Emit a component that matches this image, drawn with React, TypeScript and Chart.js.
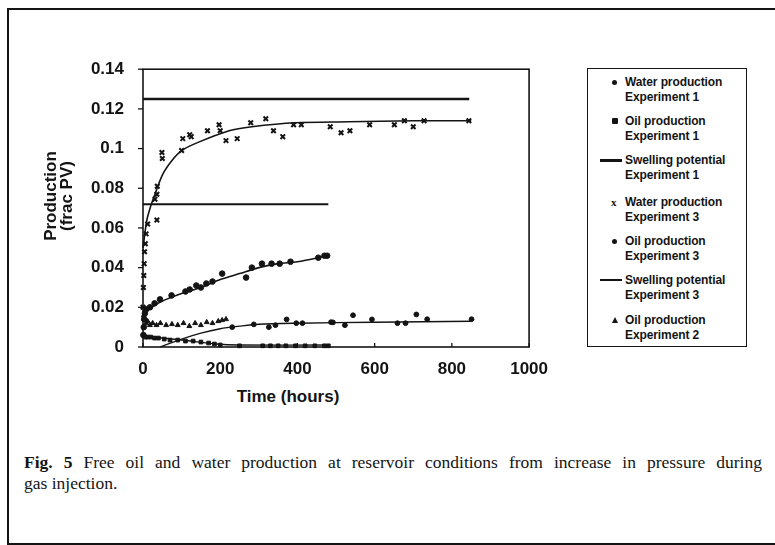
import React, { useEffect, useRef } from 'react';
import { Chart, registerables } from 'chart.js';
Chart.register(...registerables);

// ---- axes ----
const X_TICKS = [0, 200, 400, 600, 800, 1000];
const Y_TICKS = [0, 0.02, 0.04, 0.06, 0.08, 0.1, 0.12, 0.14];
const X_TITLE = 'Time (hours)';
const Y_TITLE_1 = 'Production';
const Y_TITLE_2 = '(frac PV)';

// ---- Water production, Experiment 1 ----
const WATER1_T = [231, 287, 326, 343, 372, 397, 413, 487, 492, 523, 544, 593, 659, 680, 708, 736, 851];
const WATER1_V = [0.010, 0.0114, 0.010, 0.011, 0.0139, 0.012, 0.012, 0.0125, 0.0124, 0.011, 0.016, 0.0139, 0.012, 0.012, 0.0164, 0.014, 0.014];
const WATER1_FIT_T = [45, 100, 150, 200, 250, 300, 400, 600, 851];
const WATER1_FIT_V = [0, 0.004, 0.007, 0.0092, 0.0105, 0.0115, 0.012, 0.0125, 0.013];

// ---- Oil production, Experiment 1 ----
const OIL1_T = [2, 6, 12, 20, 30, 40, 55, 70, 90, 110, 130, 150, 170, 185, 200, 250, 310, 330, 350, 370, 395, 420, 445, 470, 480];
const OIL1_V = [0.006, 0.005, 0.005, 0.005, 0.0045, 0.0045, 0.004, 0.0035, 0.0035, 0.003, 0.003, 0.0025, 0.002, 0.0015, 0.001, 0.0006, 0.0006, 0.0006, 0.0006, 0.0006, 0.0006, 0.0006, 0.0006, 0.0006, 0.0006];
const OIL1_FIT_T = [0, 100, 190, 250, 480];
const OIL1_FIT_V = [0.0055, 0.0035, 0.0015, 0.001, 0.001];

// ---- Swelling potential ----
const SWELL1_T = [0, 845];
const SWELL1_V = [0.125, 0.125];
const SWELL3_T = [0, 480];
const SWELL3_V = [0.072, 0.072];

// ---- Water production, Experiment 3 ----
const WATER3_T = [0, 1, 2, 3, 4, 6, 8, 12, 31, 36, 36, 37, 49, 50, 100, 103, 121, 125, 167, 197, 200, 215, 244, 279, 318, 338, 362, 390, 410, 485, 513, 536, 587, 651, 677, 700, 728, 844];
const WATER3_V = [0.02, 0.03, 0.036, 0.042, 0.048, 0.052, 0.057, 0.062, 0.0745, 0.064, 0.077, 0.081, 0.098, 0.095, 0.099, 0.105, 0.107, 0.106, 0.109, 0.112, 0.109, 0.104, 0.105, 0.113, 0.115, 0.109, 0.106, 0.112, 0.112, 0.111, 0.108, 0.109, 0.112, 0.112, 0.114, 0.111, 0.114, 0.114];
const WATER3_FIT_T = [0, 10, 20, 31, 51, 75, 100, 141, 223, 282, 395, 531, 700, 850];
const WATER3_FIT_V = [0.05, 0.064, 0.071, 0.077, 0.087, 0.094, 0.099, 0.103, 0.109, 0.111, 0.113, 0.1135, 0.114, 0.114];

// ---- Oil production, Experiment 3 ----
const OIL3_T = [1, 2, 3, 5, 8, 18, 30, 44, 74, 110, 121, 138, 150, 164, 180, 205, 267, 282, 308, 333, 354, 382, 454, 470, 477];
const OIL3_V = [0.006, 0.01, 0.014, 0.017, 0.019, 0.02, 0.022, 0.024, 0.026, 0.028, 0.029, 0.031, 0.03, 0.032, 0.033, 0.037, 0.035, 0.04, 0.042, 0.042, 0.042, 0.043, 0.045, 0.046, 0.046];
const OIL3_FIT_T = [10, 30, 60, 100, 150, 200, 250, 300, 350, 400, 477];
const OIL3_FIT_V = [0.018, 0.021, 0.024, 0.027, 0.03, 0.034, 0.037, 0.04, 0.042, 0.043, 0.046];

// ---- Oil production, Experiment 2 ----
const OIL2_T = [2, 5, 8, 12, 18, 25, 35, 45, 60, 75, 90, 105, 120, 135, 150, 165, 180, 195, 205, 215];
const OIL2_V = [0.016, 0.014, 0.012, 0.013, 0.011, 0.012, 0.011, 0.012, 0.011, 0.0115, 0.011, 0.012, 0.0105, 0.012, 0.011, 0.0125, 0.012, 0.013, 0.0135, 0.014];

// ---- legend ----
const LEGEND_LABELS = [
  ['Water production', 'Experiment 1'],
  ['Oil production', 'Experiment 1'],
  ['Swelling potential', 'Experiment 1'],
  ['Water production', 'Experiment 3'],
  ['Oil production', 'Experiment 3'],
  ['Swelling potential', 'Experiment 3'],
  ['Oil production', 'Experiment 2'],
];
const LEGEND_KINDS = ['dot', 'square', 'thickline', 'x', 'dot', 'line', 'tri'];

const CAPTION_BOLD = 'Fig. 5';
const CAPTION_LINE1 = ' Free oil and water production at reservoir conditions from increase in pressure during';
const CAPTION_LINE2 = 'gas injection.';

const INK = '#141414';
const pts = (t: number[], v: number[]) => t.map((x, i) => ({ x, y: v[i] }));

const framePlugin = {
  id: 'frame',
  afterDraw(chart: any) {
    const { ctx, chartArea, scales } = chart;
    const { left, right, top, bottom } = chartArea;
    ctx.save();
    ctx.strokeStyle = INK;
    ctx.lineWidth = 1.6;
    ctx.strokeRect(left, top, right - left, bottom - top);
    ctx.lineWidth = 1.3;
    Y_TICKS.forEach((v) => {
      const py = scales.y.getPixelForValue(v);
      ctx.beginPath(); ctx.moveTo(left - 5, py); ctx.lineTo(left, py); ctx.stroke();
    });
    X_TICKS.forEach((v) => {
      const px = scales.x.getPixelForValue(v);
      ctx.beginPath(); ctx.moveTo(px, bottom); ctx.lineTo(px, bottom - 4); ctx.stroke();
    });
    ctx.restore();
  },
};

function LegendMarker({ kind }: { kind: string }) {
  const base: React.CSSProperties = { position: 'absolute', background: INK };
  if (kind === 'dot') return <div style={{ ...base, left: 10, top: 5, width: 5, height: 5, borderRadius: 3 }} />;
  if (kind === 'square') return <div style={{ ...base, left: 10, top: 4, width: 6, height: 6, borderRadius: 1 }} />;
  if (kind === 'thickline') return <div style={{ ...base, left: -2, top: 6, width: 22, height: 3 }} />;
  if (kind === 'line') return <div style={{ ...base, left: -2, top: 6, width: 22, height: 1.5 }} />;
  if (kind === 'x') return <div style={{ position: 'absolute', left: 9, top: 1, fontSize: 11, fontWeight: 700, color: INK, lineHeight: '12px' }}>x</div>;
  return <div style={{ position: 'absolute', left: 10, top: 4, width: 0, height: 0, borderLeft: '3px solid transparent', borderRight: '3px solid transparent', borderBottom: `6px solid ${INK}` }} />;
}

export default function App() {
  const ref = useRef<HTMLCanvasElement | null>(null);

  useEffect(() => {
    if (!ref.current) return;
    const scatterDs = (data: any, style: string, radius: number, bw = 1) => ({
      type: 'scatter' as const,
      data,
      showLine: false,
      pointStyle: style,
      pointRadius: radius,
      pointBorderWidth: bw,
      pointBackgroundColor: INK,
      pointBorderColor: INK,
      clip: 8,
    });
    const lineDs = (data: any, width: number) => ({
      type: 'scatter' as const,
      data,
      showLine: true,
      pointRadius: 0,
      borderColor: INK,
      borderWidth: width,
      tension: 0.3,
      clip: 8,
    });
    const chart = new Chart(ref.current, {
      type: 'scatter',
      data: {
        datasets: [
          lineDs(pts(SWELL1_T, SWELL1_V), 2.4),
          lineDs(pts(SWELL3_T, SWELL3_V), 2),
          lineDs(pts(WATER3_FIT_T, WATER3_FIT_V), 1.6),
          lineDs(pts(OIL3_FIT_T, OIL3_FIT_V), 1.6),
          lineDs(pts(WATER1_FIT_T, WATER1_FIT_V), 1.4),
          lineDs(pts(OIL1_FIT_T, OIL1_FIT_V), 1.4),
          scatterDs(pts(WATER1_T, WATER1_V), 'circle', 2.4),
          scatterDs(pts(OIL1_T, OIL1_V), 'rect', 2.6),
          scatterDs(pts(WATER3_T, WATER3_V), 'crossRot', 3.2, 2),
          scatterDs(pts(OIL3_T, OIL3_V), 'circle', 2.8),
          scatterDs(pts(OIL2_T, OIL2_V), 'triangle', 2.8),
        ] as any,
      },
      options: {
        animation: false,
        responsive: false,
        maintainAspectRatio: false,
        layout: { padding: { top: 24, right: 27, left: 0, bottom: 0 } },
        plugins: { legend: { display: false }, tooltip: { enabled: false } },
        scales: {
          x: {
            type: 'linear',
            min: 0,
            max: 1000,
            afterBuildTicks: (s: any) => { s.ticks = X_TICKS.map((value) => ({ value })); },
            afterFit: (s: any) => { s.height = 33; },
            grid: { display: false, drawTicks: false },
            border: { display: false },
            ticks: {
              color: INK,
              padding: 12,
              maxRotation: 0,
              font: { family: 'Liberation Sans', size: 17, weight: 'bold' },
              callback: (v: any) => String(v),
            },
          },
          y: {
            type: 'linear',
            min: 0,
            max: 0.14,
            afterBuildTicks: (s: any) => { s.ticks = Y_TICKS.map((value) => ({ value })); },
            afterFit: (s: any) => { s.width = 143; },
            grid: { display: false, drawTicks: false },
            border: { display: false },
            ticks: {
              color: INK,
              padding: 19,
              font: { family: 'Liberation Sans', size: 17, weight: 'bold' },
              callback: (v: any) => String(Number(Number(v).toFixed(2))),
            },
          },
        },
      },
      plugins: [framePlugin],
    } as any);
    return () => chart.destroy();
  }, []);

  const legendTops = [75, 114, 153, 195, 234, 273, 313];

  return (
    <div style={{ position: 'fixed', left: 0, top: 0, width: 775, height: 545, background: '#fff', overflow: 'hidden' }}>
      <div style={{ position: 'absolute', left: 7, top: 8, width: 800, height: 533, borderLeft: `2px solid ${INK}`, borderTop: `2px solid ${INK}`, borderBottom: `2px solid ${INK}` }} />
      <canvas ref={ref} width={560} height={340} style={{ position: 'absolute', left: 0, top: 40, width: 560, height: 340 }} />
      <div style={{ position: 'absolute', left: 188, top: 387, width: 200, textAlign: 'center', font: 'bold 17px "Liberation Sans"', color: INK }}>{X_TITLE}</div>
      <div style={{ position: 'absolute', left: 59, top: 198, width: 0, height: 0 }}>
        <div style={{ position: 'absolute', left: -100, top: -18, width: 200, textAlign: 'center', transform: 'rotate(-90deg)', font: 'bold 17px "Liberation Sans"', lineHeight: '16px', color: INK }}>
          <div>{Y_TITLE_1}</div>
          <div>{Y_TITLE_2}</div>
        </div>
      </div>
      <div style={{ position: 'absolute', left: 587, top: 68, width: 158, height: 277, border: `1.5px solid ${INK}` }} />
      {LEGEND_LABELS.map((lab, i) => (
        <div key={i} style={{ position: 'absolute', left: 602, top: legendTops[i], width: 145 }}>
          <LegendMarker kind={LEGEND_KINDS[i]} />
          <div style={{ position: 'absolute', left: 23, top: 0, font: 'bold 12px "Liberation Sans"', lineHeight: '14.5px', color: INK, whiteSpace: 'nowrap', letterSpacing: -0.1 }}>
            <div>{lab[0]}</div>
            <div>{lab[1]}</div>
          </div>
        </div>
      ))}
      <div style={{ position: 'absolute', left: 24, top: 452, width: 738, font: '17.5px "Liberation Serif"', color: INK, textAlign: 'justify', textAlignLast: 'justify' as any, whiteSpace: 'nowrap', lineHeight: '20px' }}>
        <b>{CAPTION_BOLD}</b>{CAPTION_LINE1}
      </div>
      <div style={{ position: 'absolute', left: 24, top: 473, font: '17.5px "Liberation Serif"', color: INK, lineHeight: '20px' }}>{CAPTION_LINE2}</div>
    </div>
  );
}
